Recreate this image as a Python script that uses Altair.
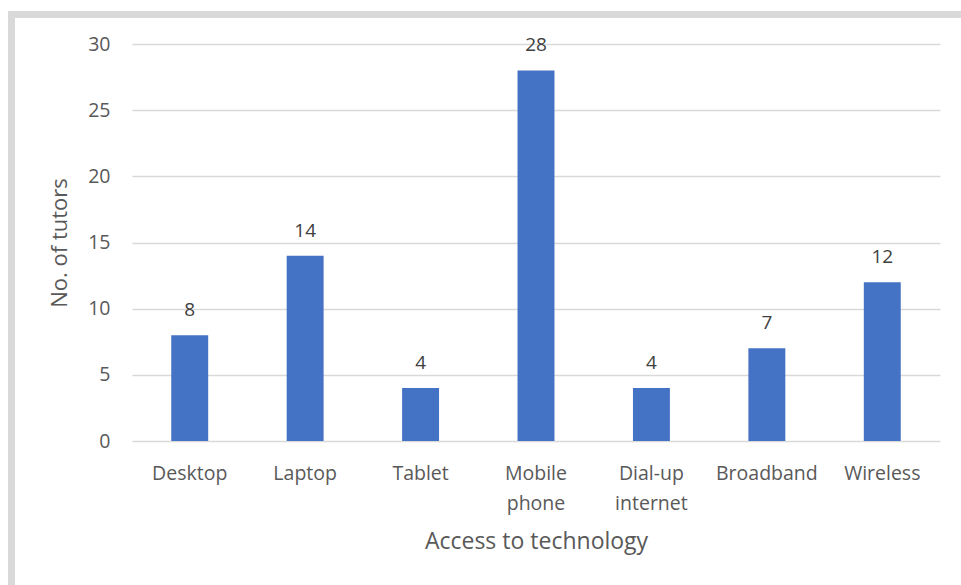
import altair as alt
import pandas as pd

categories = ["Desktop", "Laptop", "Tablet", "Mobile phone", "Dial-up internet", "Broadband", "Wireless"]
tutors = [8, 14, 4, 28, 4, 7, 12]

df = pd.DataFrame({"category": categories, "tutors": tutors})

FONT = "Open Sans"
TEXT = "#595959"

x_enc = alt.X(
    "category:N",
    sort=categories,
    title="Access to technology",
    scale=alt.Scale(paddingInner=0.68, paddingOuter=0.34),
    axis=alt.Axis(
        labelAngle=0,
        labelExpr="split(datum.label, ' ')",
        labelLineHeight=30,
        labelFontSize=19.5,
        labelColor=TEXT,
        labelPadding=23,
        labelFont=FONT,
        ticks=False,
        domain=False,
        titleFontSize=23,
        titleFont=FONT,
        titleFontWeight="normal",
        titleColor=TEXT,
        titlePadding=18,
    ),
)
y_enc = alt.Y(
    "tutors:Q",
    title="No. of tutors",
    scale=alt.Scale(domain=[0, 30]),
    axis=alt.Axis(
        values=[0, 5, 10, 15, 20, 25, 30],
        labelFontSize=19.5,
        labelColor=TEXT,
        labelFont=FONT,
        labelPadding=22,
        ticks=False,
        domain=False,
        gridColor="#d9d9d9",
        gridWidth=1.5,
        titleFontSize=22,
        titleFont=FONT,
        titleFontWeight="normal",
        titleColor=TEXT,
        titlePadding=16,
    ),
)

bars = alt.Chart(df).mark_bar(color="#4472C4").encode(x=x_enc, y=y_enc)
labels = alt.Chart(df).mark_text(
    baseline="bottom", dy=-15, fontSize=19, font=FONT, color="#404040"
).encode(x=alt.X("category:N", sort=categories), y="tutors:Q", text="tutors:Q")

frame_top = alt.Chart(df).mark_rule(color="#d9d9d9", strokeWidth=7).encode(
    x=alt.value(-124), x2=alt.value(840), y=alt.value(-29.5)
)
frame_left = alt.Chart(df).mark_rule(color="#d9d9d9", strokeWidth=7).encode(
    x=alt.value(-120.5), y=alt.value(-33), y2=alt.value(545)
)

chart = (
    alt.layer(frame_top, frame_left, bars, labels)
    .properties(
        width=808,
        height=397,
        padding={"left": 132, "top": 44, "right": 21, "bottom": 144},
        autosize=alt.AutoSizeParams(type="none"),
        background="white",
    )
    .configure_view(stroke=None)
)

chart.save("out.html", embed_options={"renderer": "svg", "actions": False})
